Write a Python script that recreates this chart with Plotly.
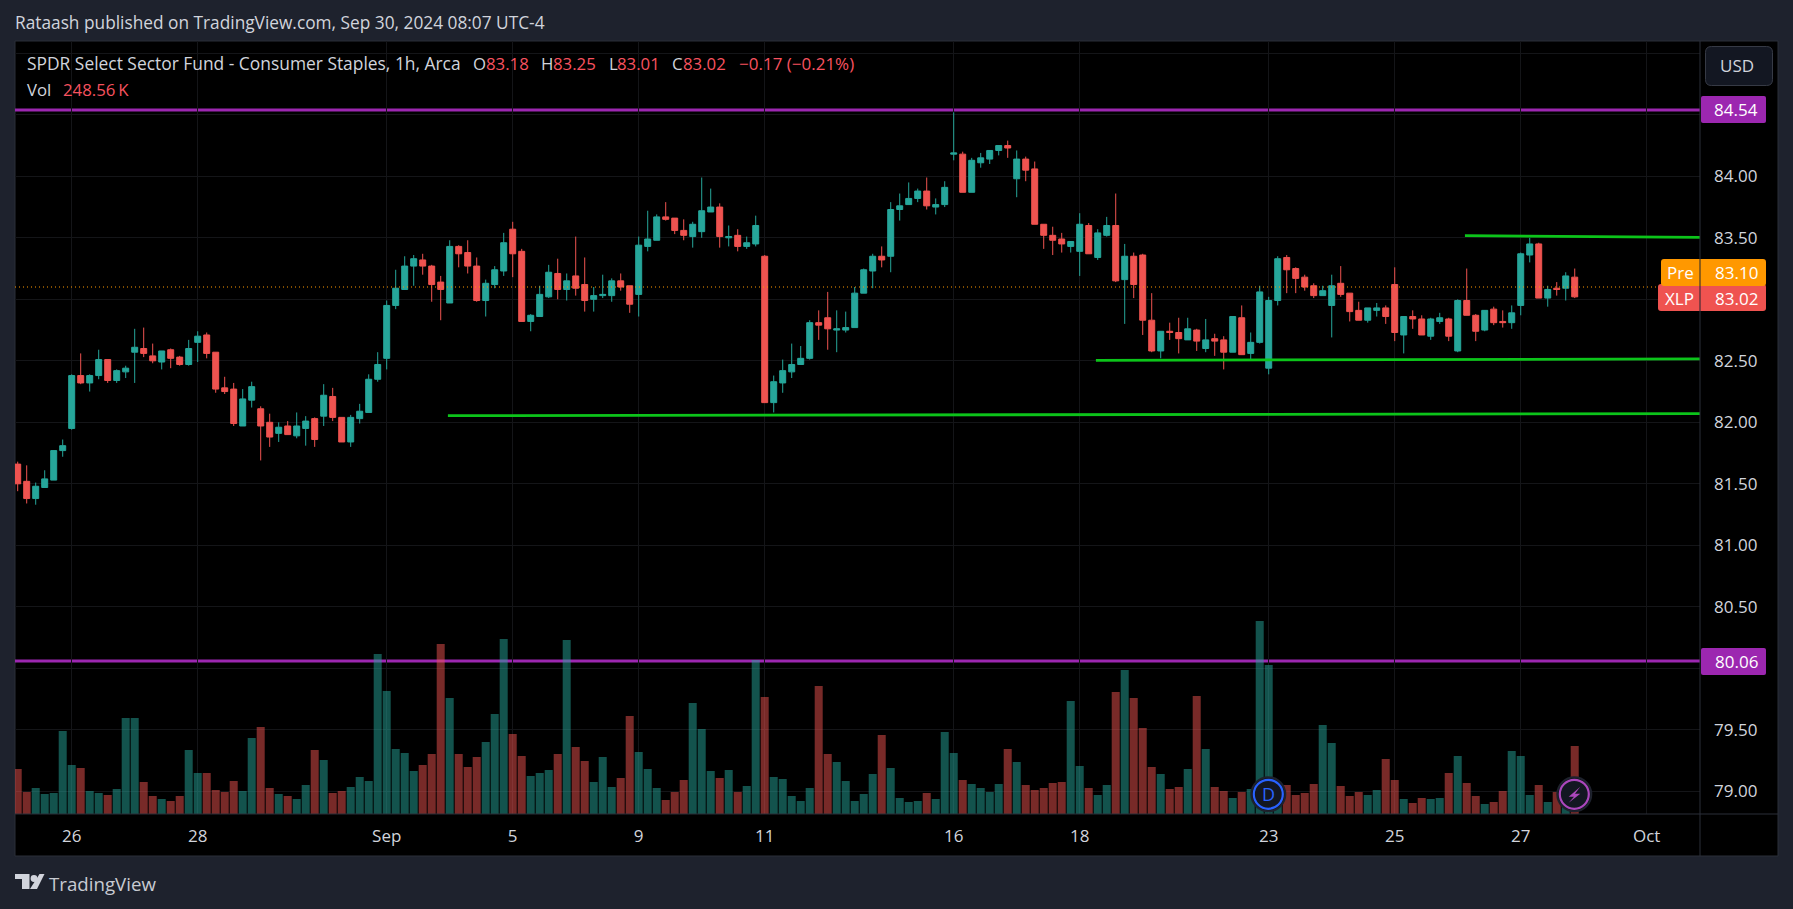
import plotly.graph_objects as go

W, H = 1793, 909
opens = [81.66,81.52,81.38,81.47,81.53,81.77,81.95,82.38,82.32,82.38,
82.51,82.34,82.41,82.57,82.60,82.54,82.49,82.59,82.53,82.47,
82.65,82.71,82.57,82.28,82.27,81.97,82.18,82.11,82.00,81.91,
81.97,81.89,81.95,82.03,82.05,82.21,82.04,81.84,82.03,82.08,
82.35,82.52,82.95,83.08,83.27,83.32,83.27,83.14,82.97,83.43,
83.38,83.27,82.99,83.12,83.23,83.57,83.39,82.82,82.86,83.02,
83.21,83.08,83.19,83.12,83.00,83.03,83.03,83.15,83.11,83.04,
83.43,83.48,83.67,83.66,83.56,83.51,83.55,83.71,83.75,83.50,
83.52,83.43,83.45,83.35,82.16,82.32,82.41,82.47,82.52,82.81,
82.85,82.75,82.75,82.77,83.05,83.23,83.35,83.35,83.73,83.77,
83.82,83.88,83.75,83.77,84.18,84.18,83.87,84.11,84.14,84.21,
84.25,83.98,84.14,84.06,83.61,83.52,83.49,83.43,83.39,83.60,
83.34,83.52,83.60,83.16,83.35,83.36,82.83,82.58,82.74,82.73,
82.67,82.75,82.60,82.68,82.67,82.57,82.85,82.56,82.65,82.44,
82.99,83.34,83.25,83.18,83.11,83.03,82.95,83.13,83.05,82.91,
82.83,82.91,82.93,83.12,82.71,82.86,82.84,82.70,82.82,82.84,
82.58,82.99,82.87,82.75,82.92,82.82,82.81,82.95,83.36,83.45,
83.01,83.09,83.09,83.18]
highs = [81.68,81.65,81.51,81.61,81.77,81.86,82.39,82.56,82.39,82.59,
82.51,82.43,82.46,82.76,82.77,82.64,82.58,82.60,82.54,82.67,
82.74,82.73,82.57,82.37,82.32,82.27,82.33,82.13,82.07,82.00,
82.01,82.08,82.05,82.04,82.31,82.28,82.04,82.06,82.15,82.39,
82.57,82.99,83.24,83.35,83.36,83.37,83.28,83.19,83.48,83.44,
83.48,83.34,83.16,83.27,83.54,83.63,83.41,82.88,83.11,83.28,
83.33,83.21,83.51,83.34,83.10,83.20,83.17,83.21,83.11,83.51,
83.72,83.69,83.79,83.66,83.65,83.63,83.99,83.90,83.78,83.60,
83.57,83.51,83.68,83.36,82.38,82.51,82.64,82.62,82.83,82.91,
83.06,82.91,82.90,83.10,83.25,83.37,83.43,83.79,83.86,83.95,
83.90,83.99,83.82,83.96,84.52,84.20,84.15,84.19,84.21,84.25,
84.29,84.21,84.16,84.12,83.61,83.59,83.54,83.47,83.70,83.62,
83.57,83.67,83.86,83.45,83.38,83.37,83.05,82.74,82.81,82.85,
82.85,82.76,82.84,82.72,82.70,82.86,82.95,82.73,83.11,83.02,
83.35,83.36,83.26,83.20,83.13,83.11,83.20,83.27,83.05,82.98,
82.93,82.97,82.95,83.26,82.86,82.91,82.87,82.85,82.89,82.85,
83.00,83.25,82.88,82.91,82.94,82.91,82.95,83.38,83.50,83.46,
83.11,83.14,83.22,83.25]
lows = [81.44,81.34,81.33,81.47,81.53,81.72,81.94,82.31,82.25,82.35,
82.32,82.32,82.36,82.32,82.53,82.48,82.43,82.44,82.46,82.46,
82.49,82.52,82.24,82.23,81.97,81.97,82.12,81.69,81.80,81.84,
81.90,81.87,81.81,81.80,81.97,82.01,81.84,81.80,81.99,82.08,
82.33,82.43,82.92,83.08,83.11,83.20,82.98,82.83,82.97,83.26,
83.21,82.98,82.86,83.09,83.19,83.18,82.82,82.74,82.86,83.01,
83.00,82.99,83.03,82.90,82.90,83.01,82.98,83.07,82.89,82.86,
83.39,83.48,83.64,83.53,83.48,83.42,83.50,83.71,83.42,83.43,
83.39,83.41,83.43,82.16,82.08,82.24,82.36,82.47,82.51,82.67,
82.59,82.57,82.73,82.77,83.05,83.09,83.26,83.22,83.64,83.77,
83.79,83.73,83.69,83.75,84.13,83.87,83.87,84.07,84.10,84.17,
84.15,83.83,83.96,83.61,83.41,83.36,83.38,83.38,83.19,83.37,
83.32,83.51,83.14,82.80,83.01,82.71,82.57,82.52,82.67,82.56,
82.67,82.58,82.57,82.54,82.43,82.57,82.55,82.51,82.64,82.39,
82.95,83.05,83.05,83.07,83.01,83.03,82.69,83.02,82.82,82.83,
82.81,82.86,82.80,82.66,82.56,82.76,82.71,82.67,82.80,82.66,
82.57,82.87,82.66,82.74,82.79,82.77,82.76,82.87,83.30,83.01,
82.94,83.03,82.99,83.01]
closes = [81.50,81.38,81.48,81.54,81.77,81.81,82.38,82.32,82.38,82.51,
82.34,82.42,82.44,82.61,82.56,82.50,82.58,82.52,82.47,82.60,
82.70,82.56,82.27,82.25,81.99,82.19,82.29,81.97,81.88,81.96,
81.90,81.97,82.01,81.86,82.22,82.04,81.84,82.04,82.09,82.35,
82.47,82.95,83.09,83.27,83.33,83.27,83.12,83.08,83.43,83.37,
83.27,82.99,83.13,83.24,83.46,83.37,82.82,82.87,83.04,83.22,
83.08,83.15,83.09,82.99,83.03,83.04,83.15,83.10,82.96,83.44,
83.49,83.67,83.65,83.56,83.52,83.61,83.72,83.75,83.51,83.51,
83.43,83.46,83.60,82.16,82.33,82.42,82.47,82.52,82.81,82.79,
82.76,82.76,82.77,83.05,83.24,83.35,83.32,83.73,83.76,83.82,
83.88,83.76,83.77,83.91,84.19,83.87,84.13,84.15,84.21,84.25,
84.23,84.14,84.05,83.61,83.52,83.48,83.45,83.47,83.61,83.37,
83.54,83.60,83.15,83.35,83.12,82.83,82.58,82.74,82.73,82.68,
82.76,82.66,82.67,82.66,82.57,82.86,82.55,82.65,83.06,82.99,
83.33,83.24,83.17,83.10,83.03,83.07,83.11,83.04,82.90,82.83,
82.93,82.93,82.86,82.73,82.86,82.84,82.71,82.84,82.85,82.70,
82.99,82.87,82.74,82.91,82.81,82.81,82.89,83.37,83.45,83.01,
83.08,83.08,83.19,83.02]
volumes_k = [164.5,80.4,95.0,73.1,76.8,303.4,179.1,168.2,84.1,76.8,
69.5,91.4,350.9,350.9,117.0,65.8,54.8,47.5,65.8,234.0,
149.9,149.9,87.7,80.4,120.6,84.1,277.8,318.0,95.0,73.1,
65.8,54.8,106.0,234.0,197.4,76.8,84.1,98.7,135.3,120.6,
584.9,449.6,237.6,223.0,157.2,179.1,219.3,621.4,424.0,219.3,
171.8,208.4,263.2,365.6,639.7,292.4,212.0,138.9,149.9,160.8,
219.3,636.1,244.9,193.7,117.0,208.4,98.7,131.6,358.2,226.6,
164.5,95.0,51.2,80.4,124.3,405.8,310.7,157.2,131.6,160.8,
80.4,102.4,563.0,427.7,135.3,127.9,65.8,47.5,95.0,467.9,
219.3,190.1,120.6,47.5,73.1,146.2,288.8,168.2,58.5,43.9,
47.5,76.8,54.8,299.8,223.0,124.3,109.7,95.0,80.4,109.7,
237.6,190.1,106.0,87.7,95.0,113.3,117.0,413.1,175.5,95.0,
69.5,106.0,446.0,526.4,424.0,314.4,171.8,146.2,91.4,98.7,
164.5,431.3,237.6,98.7,84.1,58.5,80.4,91.4,705.5,544.7,
80.4,106.0,69.5,76.8,109.7,325.3,259.5,102.4,65.8,80.4,
69.5,87.7,201.1,124.3,54.8,40.2,58.5,54.8,58.5,149.9,
212.0,113.3,65.8,36.6,43.9,84.1,230.3,212.0,69.5,106.0,
43.9,80.4,51.2,248.56]
bar_index = list(range(len(opens)))

day_ticks = [6, 20, 41, 55, 69, 83, 104, 118, 139, 153, 167, 181]
day_labels = ["26", "28", "Sep", "5", "9", "11", "16", "18", "23", "25", "27", "Oct"]
price_ticks = [79, 79.5, 80, 80.5, 81, 81.5, 82, 82.5, 83, 83.5, 84, 84.5, 85]
price_labels = ["79.00", "79.50", "", "80.50", "81.00", "81.50", "82.00", "82.50", "", "83.50", "84.00", "", ""]

level_prices = [84.54, 80.06]
pre_price = 83.10
trend_a_x, trend_a_y = [47.8, 186.92], [82.054, 82.07]
trend_b_x, trend_b_y = [119.8, 186.92], [82.504, 82.515]
trend_c_x, trend_c_y = [160.8, 186.92], [83.517, 83.504]

UP, DOWN = "#26a69a", "#ef5350"
UP_V, DOWN_V = "rgba(38,166,154,0.5)", "rgba(239,83,80,0.5)"
PAPER, PANE, EDGE = "#1e222d", "#000000", "#2a2e39"
TEXT = "#d1d4dc"
PURPLE, ORANGE = "#9c27b0", "#ff9800"
FONT = "'Open Sans', 'Noto Sans', sans-serif"

L, R, T, B = 15, 1700, 41, 814
PX_PER_UNIT = 123.0
y_hi = 84 + (176.3 - T) / PX_PER_UNIT
y_lo = 84 - (B - 176.3) / PX_PER_UNIT
vol_max = (B - T) * 248.56 / 68.0

def px(x): return x / W
def py(y): return 1 - y / H

fig = go.Figure()
fig.add_trace(go.Candlestick(
    x=bar_index, open=opens, high=highs, low=lows, close=closes,
    increasing=dict(line=dict(color=UP, width=1), fillcolor=UP),
    decreasing=dict(line=dict(color=DOWN, width=1), fillcolor=DOWN),
    whiskerwidth=0, xaxis="x", yaxis="y", showlegend=False, hoverinfo="skip"))
fig.add_trace(go.Bar(
    x=bar_index, y=volumes_k,
    marker=dict(color=[UP_V if c >= o else DOWN_V for o, c in zip(opens, closes)], line=dict(width=0)),
    xaxis="x", yaxis="y2", showlegend=False, hoverinfo="skip"))
for tx, ty in [(trend_a_x, trend_a_y), (trend_b_x, trend_b_y), (trend_c_x, trend_c_y)]:
    fig.add_trace(go.Scatter(x=tx, y=ty, mode="lines", line=dict(color="#0cc41a", width=2.8),
                             xaxis="x", yaxis="y", showlegend=False, hoverinfo="skip", cliponaxis=True))

def rrect(x0, y0, x1, y1, r, fill, line=None, layer="above"):
    X = lambda v: f"{px(v):.5f}"
    Y = lambda v: f"{py(v):.5f}"
    rx, ry = r, r
    d = (f"M {X(x0+rx)} {Y(y0)} L {X(x1-rx)} {Y(y0)} Q {X(x1)} {Y(y0)} {X(x1)} {Y(y0+ry)} "
         f"L {X(x1)} {Y(y1-ry)} Q {X(x1)} {Y(y1)} {X(x1-rx)} {Y(y1)} L {X(x0+rx)} {Y(y1)} "
         f"Q {X(x0)} {Y(y1)} {X(x0)} {Y(y1-ry)} L {X(x0)} {Y(y0+ry)} Q {X(x0)} {Y(y0)} {X(x0+rx)} {Y(y0)} Z")
    return dict(type="path", path=d, xref="paper", yref="paper", fillcolor=fill, layer=layer,
                line=dict(color=line or fill, width=1 if line else 0))

def rect(x0, y0, x1, y1, fill, line=None, layer="above"):
    return dict(type="rect", xref="paper", yref="paper", x0=px(x0), x1=px(x1), y0=py(y0), y1=py(y1),
                fillcolor=fill, layer=layer, line=dict(color=line or fill, width=1 if line else 0))

def seg(x0, y0, x1, y1, color, width=1, layer="above"):
    return dict(type="line", xref="paper", yref="paper", x0=px(x0), x1=px(x1), y0=py(y0), y1=py(y1),
                layer=layer, line=dict(color=color, width=width))

def circle(cx, cy, r, fill, line, width):
    return dict(type="circle", xref="paper", yref="paper", x0=px(cx-r), x1=px(cx+r), y0=py(cy+r), y1=py(cy-r),
                fillcolor=fill, layer="above", line=dict(color=line, width=width))

def poly(points, fill):
    d = " ".join(("M" if i == 0 else "L") + f" {px(a):.5f} {py(b):.5f}" for i, (a, b) in enumerate(points)) + " Z"
    return dict(type="path", path=d, xref="paper", yref="paper", fillcolor=fill, layer="above", line=dict(width=0))

shapes = [
    rect(15, 41, 1778, 856, PANE, EDGE, layer="below"),
]
for lv in level_prices:
    shapes.append(dict(type="line", xref="x domain", yref="y", x0=0, x1=1, y0=lv, y1=lv, layer="below",
                       line=dict(color=PURPLE, width=3)))
shapes.append(dict(type="line", xref="x domain", yref="y", x0=0, x1=1, y0=pre_price, y1=pre_price, layer="above",
                   line=dict(color=ORANGE, width=1, dash="1px,3px")))
shapes += [
    seg(1700, 41, 1700, 856, EDGE),
    seg(15, 814, 1778, 814, EDGE),
    rrect(1705.5, 46.5, 1772.5, 85.5, 6, "#131722", "#363a45"),
    rrect(1701, 96, 1766, 123, 2, PURPLE),
    rrect(1701, 648, 1766, 675, 2, PURPLE),
    rrect(1658, 284, 1766, 311, 3, DOWN),
    rrect(1661, 259, 1766, 286, 3, ORANGE),
    seg(1700, 259, 1700, 311, "#20242e"),
    circle(1268.3, 794.3, 17, "#0d1018", "#1e222d", 2),
    circle(1268.3, 794.3, 14.5, "#131722", "#2962ff", 2.2),
    circle(1574.3, 794.3, 17, "#0d1018", "#1e222d", 2),
    circle(1574.3, 794.3, 14.5, "#131722", "#ab47bc", 2.2),
    poly([(1580.3, 786.7), (1568.7, 796.7), (1574, 796.7), (1568.7, 802.7), (1580.3, 793.7), (1575, 793.7)], "#ab47bc"),
    # TradingView mark
    poly([(15, 874), (29.5, 874), (29.5, 889), (22, 889), (22, 879), (15, 879)], "#d1d4dc"),
    circle(34, 878.5, 3.4, "#d1d4dc", "#d1d4dc", 0),
    poly([(39.5, 874), (44.5, 874), (37, 889), (30, 889)], "#d1d4dc"),
]

def note(x, y, text, size=16, color=TEXT, anchor="left", weight=400):
    return dict(xref="paper", yref="paper", x=px(x), y=py(y), text=text, showarrow=False,
                xanchor=anchor, yanchor="middle", borderpad=0, borderwidth=0,
                font=dict(family=FONT, size=size, color=color, weight=weight))

RED = "#f7525f"
HS = 17.4
NS = 16.8
anns = [
    note(15, 22, "Rataash published on TradingView.com, Sep 30, 2024 08:07 UTC-4", 17.3, TEXT, weight=500),
    note(27, 63.5, "SPDR Select Sector Fund - Consumer Staples, 1h, Arca", HS),
    note(473.5, 63.5, "O", NS), note(486, 63.5, "83.18", NS, RED),
    note(541, 63.5, "H", NS), note(553, 63.5, "83.25", NS, RED),
    note(608.5, 63.5, "L", NS), note(617, 63.5, "83.01", NS, RED),
    note(672, 63.5, "C", NS), note(683, 63.5, "83.02", NS, RED),
    note(739, 63.5, "\u22120.17 (\u22120.21%)", 17, RED),
    note(27, 90, "Vol", NS), note(62.5, 90, "248.56\u2009K", NS, RED),
    note(1737, 66, "USD", 17, TEXT, "center"),
    note(1736, 109.5, "84.54", 17, "#ffffff", "center", 500),
    note(1736, 661.5, "80.06", 17, "#ffffff", "center", 500),
    note(1736, 272.5, "83.10", 17, "#ffffff", "center", 500),
    note(1680, 272.5, "Pre", 17, "#ffffff", "center", 500),
    note(1736, 298, "83.02", 17, "#ffffff", "center", 500),
    note(1679, 298, "XLP", 17, "#ffffff", "center", 500),
    note(1268.3, 794.3, "D", 18, "#2962ff", "center", 500),
    note(49, 883, "TradingView", 18.7, "#c8cbd2"),
]

fig.update_layout(
    width=W, height=H, margin=dict(l=0, r=0, t=0, b=0), autosize=False,
    paper_bgcolor=PAPER, plot_bgcolor=PANE,
    bargap=0.11, boxgap=0.05, hovermode=False,
    font=dict(family=FONT, color=TEXT, size=15),
    shapes=shapes, annotations=anns, showlegend=False,
    xaxis=dict(domain=[px(L), px(R)], range=[-0.3, 186.92], rangeslider=dict(visible=False),
               tickmode="array", tickvals=day_ticks, ticktext=day_labels, showgrid=True,
               gridcolor="#141518", gridwidth=1, zeroline=False, showline=False, ticks="",
               tickfont=dict(family=FONT, size=17, color=TEXT), ticklabelstandoff=10),
    yaxis=dict(domain=[py(B), py(T)], range=[y_lo, y_hi], side="right", tickmode="array",
               tickvals=price_ticks, ticktext=price_labels, showgrid=True, gridcolor="#141518",
               zeroline=False, showline=False, ticks="",
               tickfont=dict(family=FONT, size=17, color=TEXT), ticklabelstandoff=13),
    yaxis2=dict(domain=[py(B), py(T)], range=[0, vol_max], overlaying="y", side="left", visible=False,
                showgrid=False, zeroline=False),
)

fig.write_html("out.html", config=dict(displayModeBar=False),
               post_script="document.body.style.margin='0';document.body.style.overflow='hidden';document.documentElement.style.background='#1e222d';")
